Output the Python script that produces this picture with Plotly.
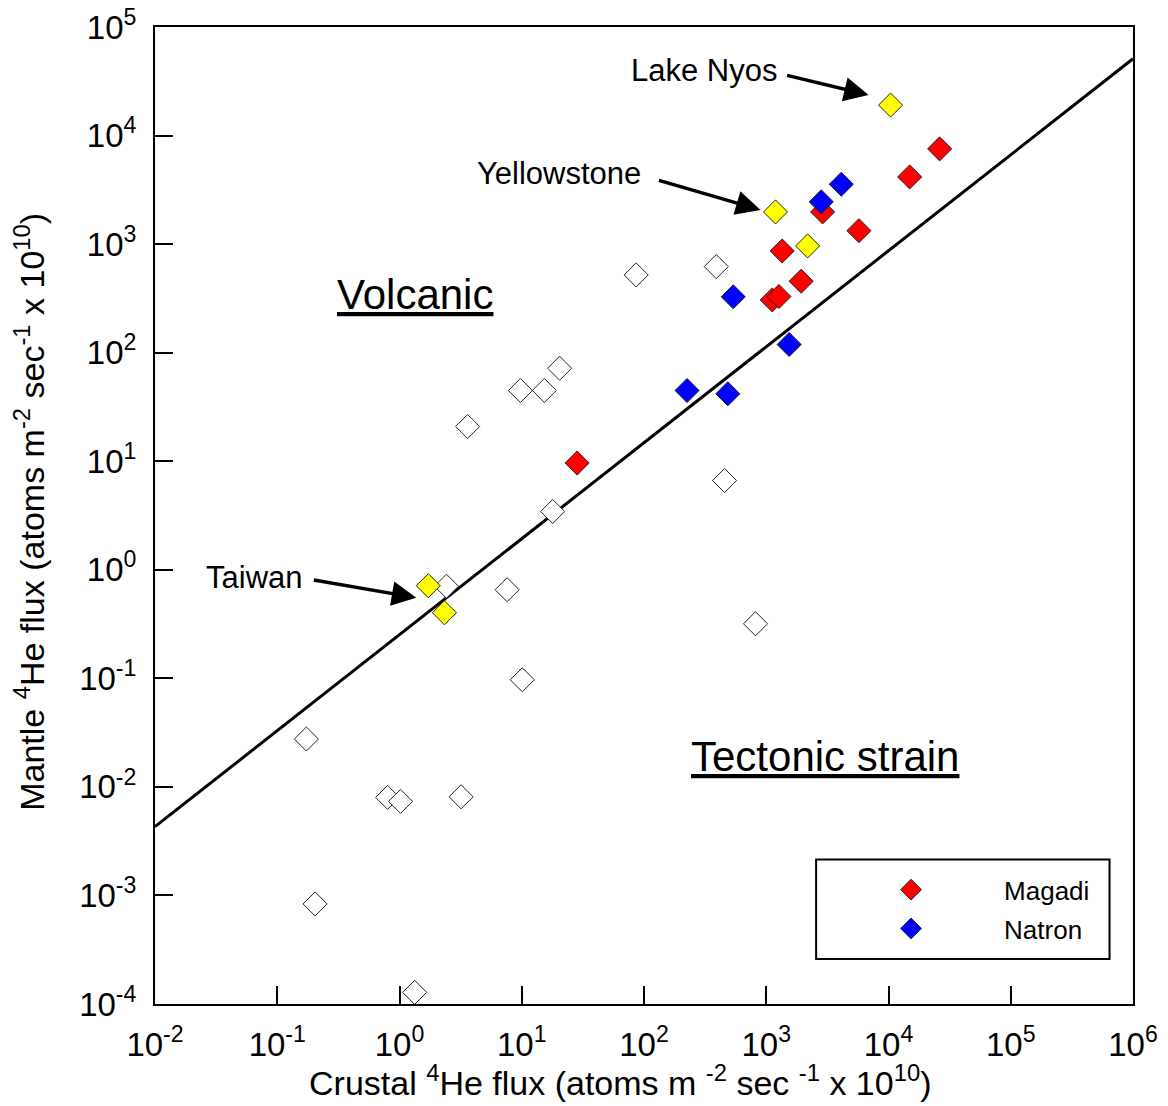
import math
import plotly.graph_objects as go

# Crustal (x) and mantle (y) 4He fluxes, atoms m^-2 s^-1 x 10^10
magadi_x = [2.62e4, 1.49e4, 2.89e3, 5.73e3, 1.35e3, 1.93e3, 1.12e3, 1.27e3, 28.4]
magadi_y = [7.54e3, 4.16e3, 1.98e3, 1.33e3, 865, 455, 306, 329, 9.62]

natron_x = [4.11e3, 2.82e3, 537, 1.54e3, 225, 485]
natron_y = [3.56e3, 2.45e3, 327, 119, 44.8, 41.8]

# Named sites: Lake Nyos, Yellowstone, other, Taiwan (2)
sites_x = [1.04e4, 1.19e3, 2.18e3, 1.72, 2.33]
sites_y = [1.91e4, 1.98e3, 962, 0.713, 0.402]

other_x = [86.3, 390, 20.4, 9.75, 15.3, 3.61, 17.9, 456, 2.42, 7.59, 817, 10.1,
           0.173, 0.80, 1.02, 3.19, 0.204, 1.33]
other_y = [520, 621, 71.9, 44.8, 44.8, 20.9, 3.44, 6.64, 0.706, 0.655, 0.318, 0.097,
           0.0276, 0.0080, 0.00735, 0.0081, 8.35e-4, 1.28e-4]

# Boundary between volcanic and tectonic-strain regimes
boundary_x = [1e-2, 1e6]
boundary_y = [4.3e-3, 5.1e4]

x_exponents = [-2, -1, 0, 1, 2, 3, 4, 5, 6]
y_exponents = [-4, -3, -2, -1, 0, 1, 2, 3, 4, 5]

FONT = "Arial, Liberation Sans, sans-serif"
MS = 18.5
edge = dict(color="#222222", width=1)

fig = go.Figure()
fig.add_trace(go.Scatter(x=boundary_x, y=boundary_y, mode="lines",
                         line=dict(color="black", width=3), showlegend=False,
                         hoverinfo="skip"))
fig.add_trace(go.Scatter(x=other_x, y=other_y, mode="markers", showlegend=False,
                         marker=dict(symbol="diamond", size=MS, color="white", line=edge)))
fig.add_trace(go.Scatter(x=sites_x, y=sites_y, mode="markers", showlegend=False,
                         marker=dict(symbol="diamond", size=MS, color="#ffff00", line=edge)))
fig.add_trace(go.Scatter(x=magadi_x, y=magadi_y, mode="markers", name="Magadi",
                         legendgroup="m",
                         marker=dict(symbol="diamond", size=MS, color="#ff0000", line=edge)))
fig.add_trace(go.Scatter(x=natron_x, y=natron_y, mode="markers", name="Natron",
                         legendgroup="n",
                         marker=dict(symbol="diamond", size=MS, color="#0000ff", line=edge)))


def power_labels(exps):
    return ["10<sup>%d</sup>" % e for e in exps]


axis_common = dict(
    type="log", showgrid=False, zeroline=False, automargin=False,
    showline=True, linecolor="black", linewidth=2, mirror=True,
    ticks="inside", ticklen=18, tickwidth=2, tickcolor="black",
    tickfont=dict(family=FONT, size=33, color="black"),
)

fig.update_xaxes(**axis_common, range=[-2, 6.00001],
                 tickvals=[10.0 ** e for e in x_exponents],
                 ticktext=power_labels(x_exponents), ticklabelstandoff=10)
fig.update_yaxes(**axis_common, range=[-4, 5.00001],
                 tickvals=[10.0 ** e for e in y_exponents],
                 ticktext=power_labels(y_exponents), ticklabelstandoff=10)

ann_font = dict(family=FONT, size=31, color="black")
big_font = dict(family=FONT, size=42, color="black")
title_font = dict(family=FONT, size=34, color="black")

annotations = []
labels = [
    ("Lake Nyos", sites_x[0], sites_y[0], -112, 35, -22, 10, -83, -20),
    ("Yellowstone", sites_x[1], sites_y[1], -132, 38, -15, 2, -103, -30),
    ("Taiwan", sites_x[3], sites_y[3], -123, 8, -12, -12, -104, -18),
]
for text, px, py, tx, ty, hx, hy, ax, ay in labels:
    annotations.append(dict(x=math.log10(px), y=math.log10(py), xref="x", yref="y",
                            text=text, showarrow=False, xanchor="right", yanchor="middle",
                            xshift=tx, yshift=ty, font=ann_font))
    annotations.append(dict(x=math.log10(px), y=math.log10(py), xref="x", yref="y",
                            text="", showarrow=True, arrowhead=2, arrowsize=1.4,
                            arrowwidth=3.5, arrowcolor="black",
                            xshift=hx, yshift=hy, ax=ax, ay=ay))
annotations.append(dict(x=0.266, y=0.726, xref="x domain", yref="y domain",
                        xanchor="center", yanchor="middle",
                        text="<u>Volcanic</u>", showarrow=False, font=big_font))
annotations.append(dict(x=0.685, y=0.253, xref="x domain", yref="y domain",
                        xanchor="center", yanchor="middle",
                        text="<u>Tectonic strain</u>", showarrow=False, font=big_font))

# axis titles
annotations.append(dict(x=0.4755, y=-0.0785, xref="paper", yref="paper",
                        xanchor="center", yanchor="middle",
                        text="Crustal <sup>4</sup>He flux (atoms m <sup>-2</sup> sec <sup>-1</sup> x 10<sup>10</sup>)",
                        showarrow=False, font=title_font))
annotations.append(dict(x=-0.128, y=0.5036, xref="paper", yref="paper", textangle=-90,
                        xanchor="center", yanchor="middle",
                        text="Mantle <sup>4</sup>He flux (atoms m<sup>-2</sup> sec<sup>-1</sup> x 10<sup>10</sup>)",
                        showarrow=False, font=title_font))

fig.update_layout(
    width=1168, height=1106,
    margin=dict(l=155, r=35, t=27, b=102),
    paper_bgcolor="white", plot_bgcolor="white",
    font=dict(family=FONT, color="black"),
    annotations=annotations,
    legend=dict(x=0.678, y=0.141, xanchor="left", yanchor="top",
                bgcolor="rgba(0,0,0,0)", borderwidth=0,
                itemwidth=176, tracegroupgap=2,
                font=dict(family=FONT, size=26, color="black")),
    shapes=[dict(type="rect", xref="x domain", yref="y domain",
                 x0=0.676, x1=0.976, y0=0.046, y1=0.148,
                 line=dict(color="black", width=2))],
)

fig.write_html("out.html")
